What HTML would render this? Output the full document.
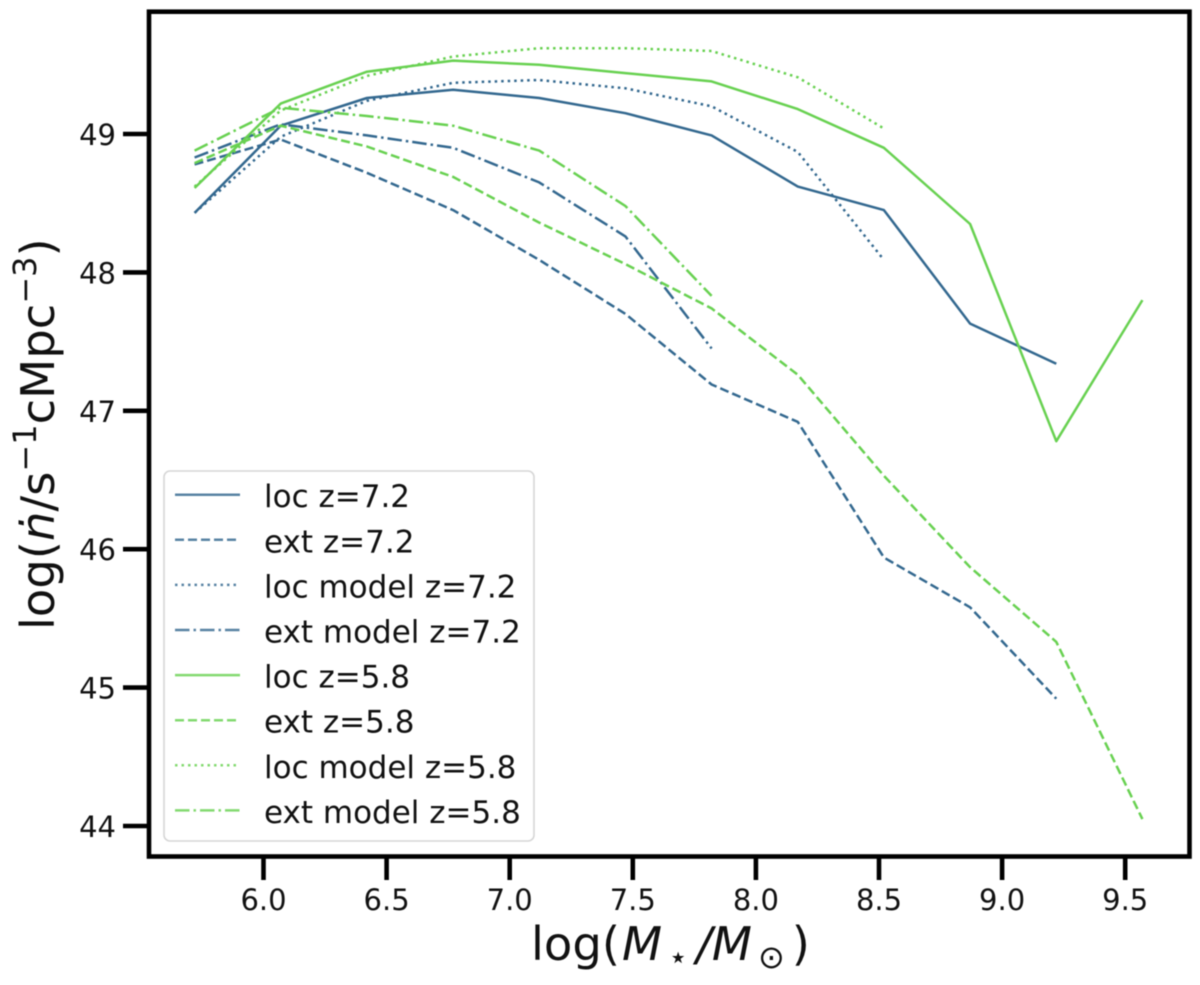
<!DOCTYPE html>
<html lang="en">
<head>
<meta charset="utf-8">
<title>Ionizing emissivity vs stellar mass</title>
<style>
html,body{margin:0;padding:0;background:#fff;width:1200px;height:985px;overflow:hidden}
svg{display:block;font-family:"DejaVu Sans","Liberation Sans",sans-serif;fill:#111;filter:blur(0.45px)}
</style>
</head>
<body>
<svg id="chart" xmlns="http://www.w3.org/2000/svg" width="1200" height="985" viewBox="0 0 1200 985">
  <g id="series"></g>
  <g id="legend"></g>
  <rect x="149" y="11.7" width="1040.5" height="844.8" fill="none" stroke="#000" stroke-width="4.6"/>
  <g id="xticks"></g>
  <g id="yticks"></g>
  <text x="531" y="960" font-size="46.5" fill="#111">log(<tspan dx="2" font-style="italic">M</tspan><tspan dx="6" dy="8" font-size="32">⋆</tspan><tspan dx="8" dy="-8" font-style="italic">/M</tspan><tspan dx="6" dy="8" font-size="32">⊙</tspan><tspan dx="7" dy="-8">)</tspan></text>
  <text transform="translate(54,630) rotate(-90)" font-size="46.5" fill="#111">log(<tspan font-style="italic">ṅ</tspan>/s<tspan dy="-18" font-size="32">−1</tspan><tspan dy="18">cMpc</tspan><tspan dy="-18" font-size="32">−3</tspan><tspan dy="18">)</tspan></text>
</svg>
<script>
const massBins = [5.72, 6.07, 6.42, 6.77, 7.12, 7.47, 7.82, 8.17, 8.52, 8.87, 9.22, 9.57];
const locZ72 = [48.43, 49.06, 49.26, 49.32, 49.26, 49.15, 48.99, 48.62, 48.45, 47.63, 47.34];
const extZ72 = [48.78, 48.96, 48.72, 48.45, 48.09, 47.70, 47.19, 46.92, 45.94, 45.58, 44.92];
const locModelZ72 = [48.43, 48.98, 49.24, 49.37, 49.39, 49.33, 49.20, 48.87, 48.09];
const extModelZ72 = [48.83, 49.07, 48.99, 48.90, 48.65, 48.26, 47.45];
const locZ58 = [48.61, 49.22, 49.45, 49.53, 49.50, 49.44, 49.38, 49.18, 48.90, 48.35, 46.78, 47.80];
const extZ58 = [48.79, 49.06, 48.91, 48.69, 48.36, 48.06, 47.74, 47.26, 46.53, 45.87, 45.33, 44.05];
const locModelZ58 = [48.62, 49.17, 49.42, 49.56, 49.62, 49.62, 49.60, 49.41, 49.04];
const extModelZ58 = [48.88, 49.19, 49.13, 49.06, 48.88, 48.48, 47.83];
const xTickLabels = ["6.0", "6.5", "7.0", "7.5", "8.0", "8.5", "9.0", "9.5"];
const yTickLabels = ["44", "45", "46", "47", "48", "49"];
const legendLabels = ["loc z=7.2", "ext z=7.2", "loc model z=7.2", "ext model z=7.2", "loc z=5.8", "ext z=5.8", "loc model z=5.8", "ext model z=5.8"];

const BLUE = "#33688f";
const GREEN = "#68d151";
const DASHES = { solid: "", dashed: "9 4", dotted: "2.5 4", dashdot: "14.5 4 2.5 4" };
const NS = "http://www.w3.org/2000/svg";

const xScale = v => 263.5 + (v - 6) * 246.2;
const yScale = v => 134 + (49 - v) * 138.4;

function make(tag, attrs, parent) {
  const el = document.createElementNS(NS, tag);
  for (const k in attrs) el.setAttribute(k, attrs[k]);
  parent.appendChild(el);
  return el;
}

const seriesDefs = [
  { values: locZ72, color: BLUE, dash: "solid", key: "loc-z72" },
  { values: extZ72, color: BLUE, dash: "dashed", key: "ext-z72" },
  { values: locModelZ72, color: BLUE, dash: "dotted", key: "loc-model-z72" },
  { values: extModelZ72, color: BLUE, dash: "dashdot", key: "ext-model-z72" },
  { values: locZ58, color: GREEN, dash: "solid", key: "loc-z58" },
  { values: extZ58, color: GREEN, dash: "dashed", key: "ext-z58" },
  { values: locModelZ58, color: GREEN, dash: "dotted", key: "loc-model-z58" },
  { values: extModelZ58, color: GREEN, dash: "dashdot", key: "ext-model-z58" }
];

const seriesLayer = document.getElementById("series");
seriesDefs.forEach(s => {
  const pts = s.values.map((v, i) => xScale(massBins[i]).toFixed(1) + "," + yScale(v).toFixed(1)).join(" ");
  const line = make("polyline", { points: pts, fill: "none", stroke: s.color, "stroke-width": 2.5, "stroke-dasharray": DASHES[s.dash], "stroke-linejoin": "round" }, seriesLayer);
  
  
});

const xTicks = document.getElementById("xticks");
xTickLabels.forEach(label => {
  const x = xScale(parseFloat(label));
  const tick = make("line", { x1: x, x2: x, y1: 858, y2: 880, stroke: "#000", "stroke-width": 4.6 }, xTicks);
  
  
  const text = make("text", { x: x, y: 910, "text-anchor": "middle", "font-size": 29 }, xTicks);
  text.textContent = label;
  
  
});

const yTicks = document.getElementById("yticks");
yTickLabels.forEach(label => {
  const y = yScale(parseFloat(label));
  const tick = make("line", { x1: 123, x2: 148, y1: y, y2: y, stroke: "#000", "stroke-width": 4.6 }, yTicks);
  
  
  const text = make("text", { x: 116, y: y + 11, "text-anchor": "end", "font-size": 29 }, yTicks);
  text.textContent = label;
  
  
});

const legend = document.getElementById("legend");
const legendBox = make("rect", { x: 164, y: 471, width: 370, height: 370, rx: 6, fill: "#fff", "fill-opacity": 0.8, stroke: "#d6d6d6", "stroke-width": 1.6 }, legend);


legendLabels.forEach((label, i) => {
  const y = 494.7 + i * 45.1;
  const s = seriesDefs[i];
  const sample = make("line", { x1: 175, x2: 240, y1: y, y2: y, stroke: s.color, "stroke-opacity": 0.82, "stroke-width": 2.5, "stroke-dasharray": DASHES[s.dash] }, legend);
  
  
  const text = make("text", { x: 264, y: y + 12.5, "font-size": 31 }, legend);
  text.textContent = label;
  
  
});
</script>
</body>
</html>
